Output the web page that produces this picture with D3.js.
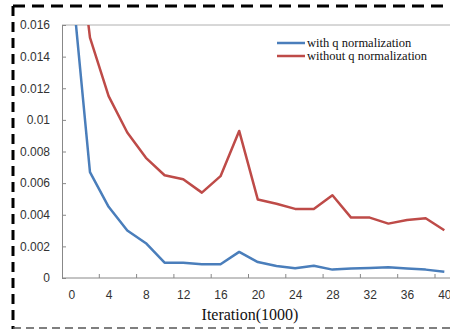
<!DOCTYPE html>
<html>
<head>
<meta charset="utf-8">
<script src="https://cdn.jsdelivr.net/npm/d3@7"></script>
<style>
  body { margin: 0; background: #fff; }
</style>
</head>
<body>
<div class="chart"></div>
<script>
// iterations (x1000)
const iterations = [0, 2, 4, 6, 8, 10, 12, 14, 16, 18, 20, 22, 24, 26, 28, 30, 32, 34, 36, 38, 40];
const withQ = [0.0191, 0.0067, 0.0045, 0.0030, 0.0022, 0.00097, 0.00097, 0.00087, 0.00087, 0.00165, 0.00101,
               0.00076, 0.00061, 0.00078, 0.00053, 0.0006, 0.00064, 0.00068, 0.0006, 0.00053, 0.0004];
const withoutQ = [0.025, 0.0152, 0.0115, 0.0092, 0.0076, 0.0065, 0.00625, 0.0054, 0.00644, 0.0093, 0.00496,
                  0.0047, 0.00437, 0.00437, 0.00523, 0.00382, 0.00382, 0.00344, 0.00367, 0.00378, 0.00302];
const xLabels = [0, 4, 8, 12, 16, 20, 24, 28, 32, 36, 40];
const yTicks = [0, 0.002, 0.004, 0.006, 0.008, 0.01, 0.012, 0.014, 0.016];
const seriesNames = ["with q normalization", "without q normalization"];

const colors = { withQ: "#4a7ebb", withoutQ: "#be4b48" };

const W = 450, H = 330;
const plotL = 62, plotT = 25, plotB = 278, plotR = 62 + 21 * 18.65;

const svg = d3.select(".chart").append("svg")
    .attr("width", W)
    .attr("height", H);

svg.append("rect").attr("width", W).attr("height", H).attr("fill", "#fff");

// dashed frame round the figure
svg.append("line")
    .attr("x1", 13).attr("x2", W).attr("y1", 6).attr("y2", 6)
    .attr("stroke", "#000").attr("stroke-width", 3)
    .attr("stroke-dasharray", "12,7");
svg.append("line")
    .attr("x1", 13).attr("x2", 13).attr("y1", 6).attr("y2", 329)
    .attr("stroke", "#000").attr("stroke-width", 3)
    .attr("stroke-dasharray", "10,6");
svg.append("line")
    .attr("x1", 13).attr("x2", W).attr("y1", 328).attr("y2", 328)
    .attr("stroke", "#555").attr("stroke-width", 1.5)
    .attr("stroke-dasharray", "8,5");

const x = d3.scalePoint()
    .domain(iterations)
    .range([plotL, plotR])
    .padding(0.5);
const step = x.step();

const y = d3.scaleLinear()
    .domain([0, 0.016])
    .range([plotB, plotT]);

// plot area top border
svg.append("line")
    .attr("x1", plotL).attr("x2", W).attr("y1", plotT).attr("y2", plotT)
    .attr("stroke", "#b0b0b0");

// y axis
const yAxis = svg.append("g")
    .attr("transform", `translate(${plotL},0)`)
    .call(d3.axisLeft(y).tickValues(yTicks).tickFormat(d3.format("~g"))
        .tickSizeInner(-4).tickSizeOuter(0).tickPadding(12));
yAxis.select(".domain").attr("stroke", "#888");
yAxis.selectAll(".tick line").attr("stroke", "#888");
yAxis.selectAll("text")
    .attr("font-family", "Liberation Sans, Arial, sans-serif")
    .attr("font-size", 12)
    .attr("fill", "#333");

// x axis: labels at categories, ticks between categories
const xAxis = svg.append("g")
    .attr("transform", `translate(0,${plotB})`)
    .call(d3.axisBottom(x).tickValues(xLabels).tickSize(0).tickPadding(12));
xAxis.select(".domain").remove();
xAxis.selectAll("text")
    .attr("font-family", "Liberation Sans, Arial, sans-serif")
    .attr("font-size", 12)
    .attr("fill", "#333");
svg.append("line")
    .attr("x1", plotL).attr("x2", W).attr("y1", plotB).attr("y2", plotB)
    .attr("stroke", "#888");
svg.append("g").selectAll("line")
    .data(xLabels.slice(1))
    .join("line")
    .attr("x1", d => x(d) - step / 2).attr("x2", d => x(d) - step / 2)
    .attr("y1", plotB).attr("y2", plotB - 4)
    .attr("stroke", "#888");

svg.append("text")
    .attr("x", 250).attr("y", 320)
    .attr("text-anchor", "middle")
    .attr("font-family", "Liberation Serif, Times New Roman, serif")
    .attr("font-size", 16)
    .attr("fill", "#111")
    .text("Iteration(1000)");

// lines
svg.append("clipPath").attr("id", "plot")
    .append("rect")
    .attr("x", plotL).attr("y", plotT)
    .attr("width", plotR - plotL).attr("height", plotB - plotT);

const line = d3.line()
    .x((d, i) => x(iterations[i]))
    .y(d => y(d));

const plot = svg.append("g").attr("clip-path", "url(#plot)");
plot.append("path")
    .datum(withoutQ)
    .attr("d", line)
    .attr("fill", "none")
    .attr("stroke", colors.withoutQ)
    .attr("stroke-width", 2.5)
    .attr("stroke-linejoin", "round");
plot.append("path")
    .datum(withQ)
    .attr("d", line)
    .attr("fill", "none")
    .attr("stroke", colors.withQ)
    .attr("stroke-width", 2.5)
    .attr("stroke-linejoin", "round");

// legend
const legend = svg.append("g")
    .selectAll("g")
    .data(seriesNames)
    .join("g")
    .attr("transform", (d, i) => `translate(277,${43 + i * 13})`);
legend.append("line")
    .attr("x1", 0).attr("x2", 28)
    .attr("stroke", (d, i) => i === 0 ? colors.withQ : colors.withoutQ)
    .attr("stroke-width", 2.5);
legend.append("text")
    .attr("x", 30).attr("y", 4)
    .attr("font-family", "Liberation Serif, Times New Roman, serif")
    .attr("font-size", 12.5)
    .attr("fill", "#111")
    .text(d => d);
</script>
</body>
</html>
